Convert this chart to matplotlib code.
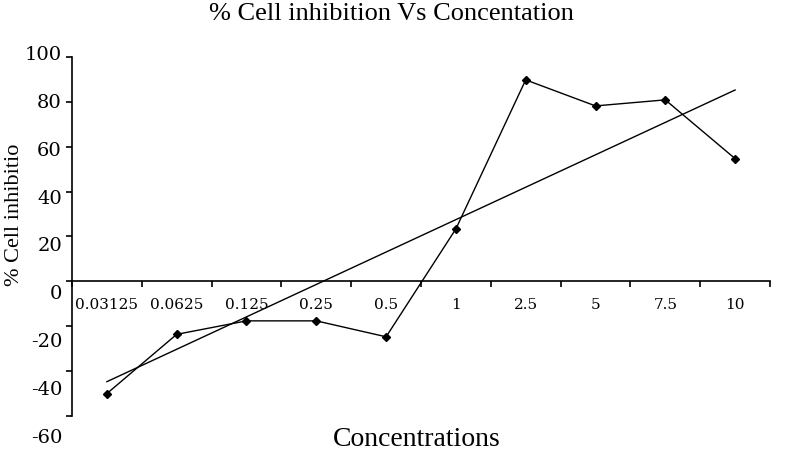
import matplotlib
matplotlib.use('Agg')
import matplotlib.pyplot as plt
import matplotlib.transforms as mtransforms
import numpy as np

# data
concentrations = ['0.03125', '0.0625', '0.125', '0.25', '0.5', '1', '2.5', '5', '7.5', '10']
inhibition = [-50.0, -23.6, -17.6, -17.6, -24.7, 23.4, 89.8, 78.2, 80.9, 54.7]
trend_ends = [-44.7, 85.3]
y_ticks = [-60, -40, -20, 0, 20, 40, 60, 80, 100]

text_font = 'Liberation Serif'
num_font = 'DejaVu Serif'

fig = plt.figure(figsize=(7.89, 4.68), dpi=100)
ax = fig.add_axes([72 / 789, 1 - 416 / 468, (770 - 72) / 789, (416 - 57) / 468])

x = np.arange(1, len(concentrations) + 1)
ax.plot(x, inhibition, color='black', linewidth=1.0, marker='D', markersize=4)
ax.plot([x[0], x[-1]], trend_ends, color='black', linewidth=1.0)

ax.set_xlim(0.5, len(concentrations) + 0.5)
ax.set_ylim(-60, 100)

for side in ['top', 'right']:
    ax.spines[side].set_visible(False)
ax.spines['bottom'].set_position(('data', 0))
ax.spines['bottom'].set_linewidth(1.2)
ax.spines['left'].set_linewidth(1.2)

# category boundary ticks, labels at category centres
ax.set_xticks(np.arange(0.5, len(concentrations) + 1, 1))
ax.set_xticklabels([])
ax.set_xticks(x, minor=True)
ax.set_xticklabels(concentrations, minor=True, fontfamily=num_font, fontsize=11)
ax.tick_params(axis='x', which='major', direction='out', length=4, width=1.2)
ax.tick_params(axis='x', which='minor', length=0, pad=12)

# y tick labels drift downward in the original, so draw them by hand
ax.set_yticks(y_ticks)
ax.set_yticklabels([])
ax.tick_params(axis='y', direction='out', length=4, width=1.2)
ytrans = mtransforms.blended_transform_factory(ax.transAxes, ax.transData)
for v in y_ticks:
    off_px = -2 + (100 - v) * 0.15
    tr = ytrans + mtransforms.ScaledTranslation(-10 / 100, -off_px / 100, fig.dpi_scale_trans)
    ax.text(0, v, str(v), transform=tr, ha='right', va='center',
            fontfamily=num_font, fontsize=14)

fig.text(391 / 789, 1 - 14 / 468, '% Cell inhibition Vs Concentation',
         ha='center', va='center', fontfamily=text_font, fontsize=19)
fig.text(417 / 789, 1 - 439 / 468, 'Concentrations',
         ha='center', va='center', fontfamily=text_font, fontsize=20)
fig.text(15 / 789, 1 - 215 / 468, '% Cell inhibitio', rotation=90,
         ha='center', va='center', fontfamily=text_font, fontsize=16)

fig.savefig('out.png', dpi=100)
